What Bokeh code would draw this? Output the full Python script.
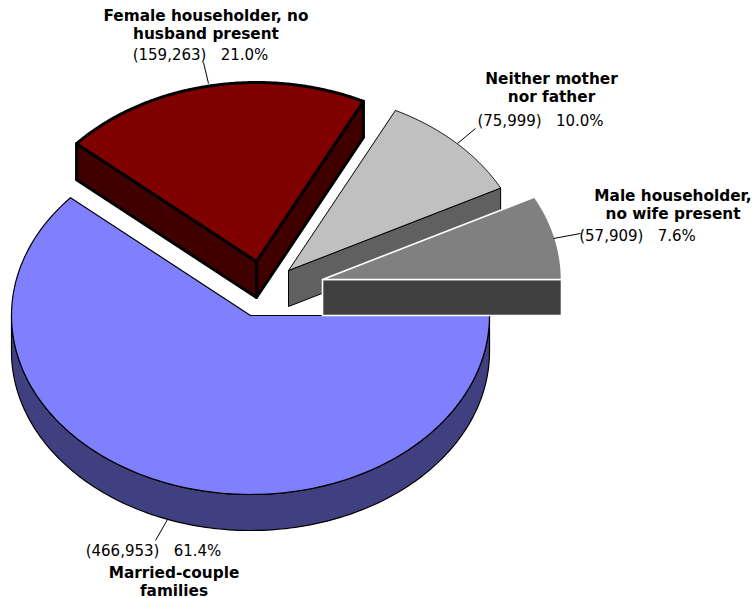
import numpy as np
from bokeh.plotting import figure
from bokeh.models import Range1d
from bokeh.core.properties import value
from bokeh.embed import file_html
from bokeh.resources import INLINE

categories = ["Married-couple families", "Female householder, no husband present",
              "Neither mother nor father", "Male householder, no wife present"]
counts = [466953, 159263, 75999, 57909]
percent_labels = ["61.4%", "21.0%", "10.0%", "7.6%"]
count_labels = ["(466,953)", "(159,263)", "(75,999)", "(57,909)"]
name_lines = [["Married-couple", "families"],
              ["Female householder, no", "husband present"],
              ["Neither mother", "nor father"],
              ["Male householder,", "no wife present"]]

top_colors = ["#8080FF", "#800000", "#C0C0C0", "#808080"]
side_colors = ["#404080", "#400000", "#606060", "#404040"]
line_colors = ["#000000", "#000000", "#000000", "#FFFFFF"]
line_widths = [1.2, 3, 1, 1.6]

# layout (in page pixels)
RX, RY, DEPTH = 239, 179, 36
apex = [(250, 315), (256, 261), (288, 270), (322, 279)]
label_xy = [(173.5, 572, 550, 153), (205.5, 15, 54, 200), (551, 78, 120, 540), (672.5, 195, 235, 637)]
leaders = [((155, 540), (167, 519)), ((203, 62), (208, 83)), ((475, 128), (457, 143)), ((553, 238), (580, 233))]
FONT = "DejaVu Sans"

W, H = 752, 598
p = figure(width=W, height=H, output_backend="svg", toolbar_location=None,
           x_range=Range1d(0, W), y_range=Range1d(H, 0), min_border=0, outline_line_color=None)
p.axis.visible = False
p.grid.visible = False
p.xaxis.visible = False
p.yaxis.visible = False
p.background_fill_color = "#FFFFFF"

total = sum(counts)
cum = np.concatenate([[0], np.cumsum(counts)]) / total * 2 * np.pi


def pt(c, a, dz=0):
    return c[0] + RX * np.cos(a), c[1] + RY * np.sin(a) + dz


def arc(c, a0, a1, dz=0):
    t = np.linspace(a0, a1, 160)
    return c[0] + RX * np.cos(t), c[1] + RY * np.sin(t) + dz


def face(c, a):
    x, y = pt(c, a)
    return [c[0], x, x, c[0]], [c[1], y, y + DEPTH, c[1] + DEPTH]


def draw(i):
    c, a0, a1 = apex[i], cum[i], cum[i + 1]
    style = dict(fill_color=side_colors[i], line_color=line_colors[i], line_width=line_widths[i],
                 line_join="round")
    if i == 0:
        xa, ya = arc(c, 0, np.pi)
        xb, yb = arc(c, 0, np.pi, DEPTH)
        p.patch(np.r_[xa, xb[::-1]], np.r_[ya, yb[::-1]], **style)
    else:
        if i == 1:
            xs, ys = face(c, a0)
            p.patch(xs, ys, **style)
        xs, ys = face(c, a1 if a1 < 2 * np.pi - 1e-6 else 2 * np.pi)
        p.patch(xs, ys, **style)
    xa, ya = arc(c, a0, a1)
    p.patch(np.r_[c[0], xa], np.r_[c[1], ya], fill_color=top_colors[i], line_color=line_colors[i],
            line_width=line_widths[i], line_join="round")


for i in [0, 2, 3, 1]:
    draw(i)

for (a, b) in leaders:
    p.line([a[0], b[0]], [a[1], b[1]], line_color="#000000", line_width=1)

GAP = "\u00a0\u00a0\u00a0"
for i, (xn, yn, yv, xv) in enumerate(label_xy):
    for k, line in enumerate(name_lines[i]):
        p.text([xn], [yn + 18 * k], text=[line], text_font=value(FONT), text_font_size="15.3px",
               text_font_style="bold", text_align="center", text_baseline="middle", text_color="#000000")
    p.text([xv], [yv], text=[count_labels[i] + GAP + percent_labels[i]], text_font=value(FONT),
           text_font_size="15px", text_align="center", text_baseline="middle", text_color="#000000")

open("out.html", "w").write(file_html(p, INLINE))
